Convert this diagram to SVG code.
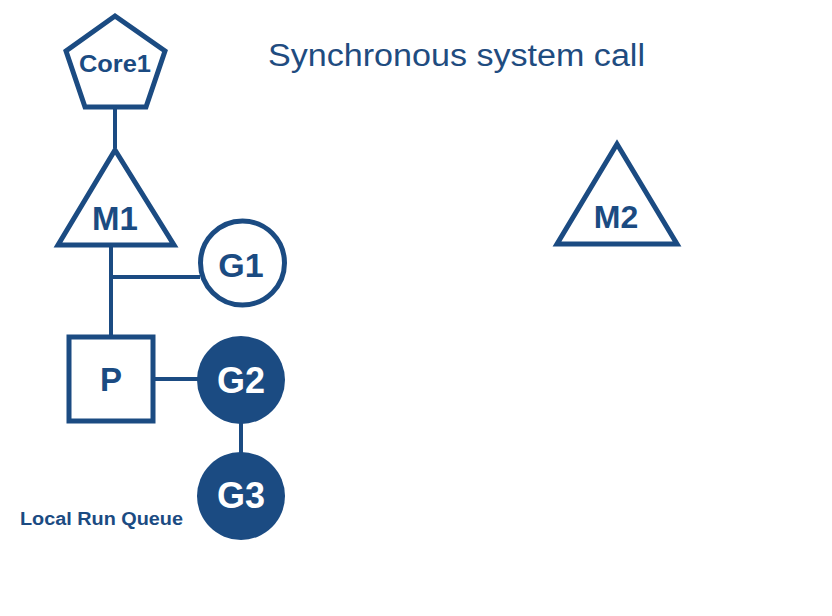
<svg xmlns="http://www.w3.org/2000/svg" width="832" height="616" viewBox="0 0 832 616">
<style>
.o{fill:#fff;stroke:#1b4b82;stroke-width:5;stroke-linejoin:miter}
.f{fill:#1b4b82}
.c{stroke:#1b4b82;stroke-width:4;fill:none}
.t{font-family:"Liberation Sans",Arial,sans-serif;font-weight:bold;text-anchor:middle;fill:#1b4b82}
.w{fill:#fff}
</style>
<rect width="832" height="616" fill="#fff"/>
<text x="268" y="66" font-family="Liberation Sans,Arial,sans-serif" font-size="31" textLength="377" lengthAdjust="spacingAndGlyphs" fill="#1f4c80">Synchronous system call</text>
<g id="connectors">
<line class="c" x1="115" y1="108" x2="115" y2="148"/>
<line class="c" x1="111" y1="245" x2="111" y2="337"/>
<line class="c" x1="111" y1="277" x2="200" y2="277"/>
<line class="c" x1="154" y1="379" x2="198" y2="379"/>
<line class="c" x1="241" y1="420" x2="241" y2="456"/>
</g>
<g id="core1">
<polygon class="o" points="115,16 165,51 146,107 85,107 66,51"/>
<text class="t" x="115" y="72" font-size="24" textLength="72" lengthAdjust="spacingAndGlyphs">Core1</text>
</g>
<g id="m1">
<polygon class="o" points="115,150 58,245 174,245"/>
<text class="t" x="115" y="230" font-size="33">M1</text>
</g>
<g id="g1">
<circle class="o" cx="242.5" cy="263" r="42" stroke-width="4"/>
<text class="t" x="241" y="277" font-size="34">G1</text>
</g>
<g id="p">
<rect class="o" x="69" y="337" width="84" height="84"/>
<text class="t" x="111" y="391" font-size="33">P</text>
</g>
<g id="g2">
<circle class="f" cx="241" cy="380" r="44"/>
<text class="t w" x="241" y="393" font-size="36">G2</text>
</g>
<g id="g3">
<circle class="f" cx="241" cy="496" r="44"/>
<text class="t w" x="241" y="508" font-size="36">G3</text>
</g>
<g id="lrq">
<text class="t" x="101.5" y="525" font-size="18" textLength="163" lengthAdjust="spacingAndGlyphs">Local Run Queue</text>
</g>
<g id="m2">
<polygon class="o" points="617,144 557,244 677,244"/>
<text class="t" x="616" y="228" font-size="32">M2</text>
</g>
</svg>
